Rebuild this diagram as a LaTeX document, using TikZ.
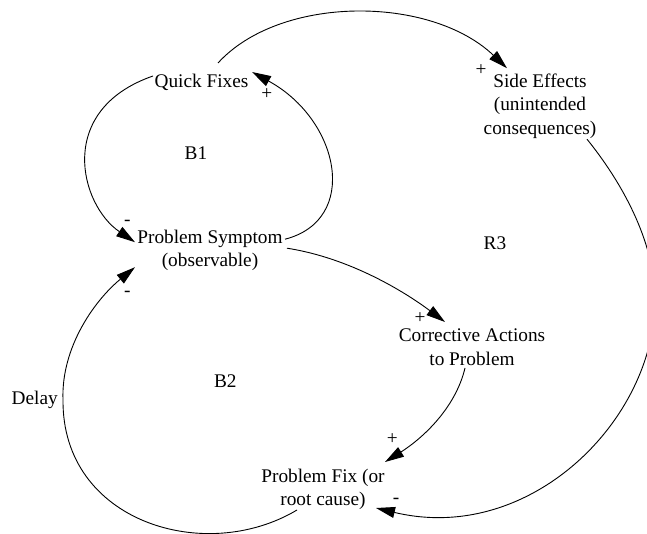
\documentclass[tikz,border=0pt]{standalone}
\usepackage{fontspec}
\setmainfont{Liberation Serif}
\usetikzlibrary{arrows.meta,calc}
\begin{document}
\begin{tikzpicture}[x=1pt,y=-1pt,
  lbl/.style={font=\fontsize{19.3}{23.5}\selectfont, inner sep=0pt, align=center},
  sgn/.style={font=\fontsize{19.3}{23.5}\selectfont, inner sep=0pt},
  link/.style={line width=0.9pt, -{Triangle[length=19pt,width=11pt]}}]
\useasboundingbox (0,0) rectangle (647,534);
% variables
\node[lbl] (qf) at (201.5,82.5) {Quick Fixes};
\node[lbl] (ps) at (210,250.2) {Problem Symptom\\(observable)};
\node[lbl] (se) at (540,106.2) {Side Effects\\(unintended\\consequences)};
\node[lbl] (ca) at (472,347) {Corrective Actions\\to Problem};
\node[lbl] (pf) at (323,489.5) {Problem Fix (or\\root cause)};
% loop labels
\node[lbl] (b1) at (196,153) {B1};
\node[lbl] (b2) at (225.3,381) {B2};
\node[lbl] (r3) at (495,243.3) {R3};
\node[lbl] (delay) at (34.7,399.5) {Delay};
% polarity signs
\node[sgn] (s1) at (127.3,222.7) {-};
\node[sgn] (s2) at (266.7,94) {+};
\node[sgn] (s3) at (481,70) {+};
\node[sgn] (s4) at (420,318.5) {+};
\node[sgn] (s5) at (392.3,439.3) {+};
\node[sgn] (s6) at (396,500.7) {-};
\node[sgn] (s7) at (127.3,294.3) {-};
% links
\draw[link] ($(qf)+(-48.5,-6.5)$) .. controls (55,110) and (80,205) .. ($(ps)+(-75,-8)$);
\draw[link] ($(ps)+(75,-11)$) .. controls (360,220) and (340,120) .. ($(qf)+(50.5,-10.5)$);
\draw[link] ($(qf)+(16.5,-19.5)$) .. controls (280,-5) and (430,-5) .. ($(se)+(-33,-38)$);
\coordinate (dmid) at (655,300);
\draw[link] ($(se)+(47,33)$) .. controls (620,180) and (655,240) .. (dmid)
   .. controls (655,420) and (530,545) .. ($(pf)+(53,18.5)$);
\draw[link] ($(ps)+(77,-2)$) .. controls (350,258) and (405,292) .. ($(ca)+(-27,-25)$);
\draw[link] ($(ca)+(-7,21)$) .. controls (455,410) and (420,440) .. ($(pf)+(62,-27.5)$);
\coordinate (gmid) at (63,400);
\draw[link] ($(pf)+(-26,20.5)$) .. controls (205,565) and (62,522) .. (gmid)
   .. controls (61,347) and (95,300) .. ($(ps)+(-75,17)$);
\end{tikzpicture}
\end{document}
